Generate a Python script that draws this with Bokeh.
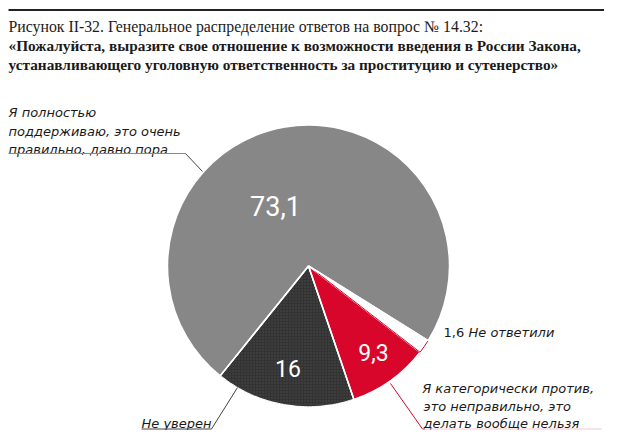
import math
from bokeh.plotting import figure
from bokeh.models import Range1d, ColumnDataSource
from bokeh.core.properties import value
from bokeh.embed import file_html
from bokeh.resources import INLINE

# ---- data ----
categories = ["Не уверен", "Я категорически против, это неправильно, это делать вообще нельзя",
              "Не ответили", "Я полностью поддерживаю, это очень правильно, давно пора"]
values = [16, 9.3, 1.6, 73.1]
value_labels = ["16", "9,3", "1,6", "73,1"]
colors = ["#333333", "#d7062a", "#ffffff", "#878787"]
title_lines = [
    "Рисунок II-32. Генеральное распределение ответов на вопрос № 14.32:",
    "«Пожалуйста, выразите свое отношение к возможности введения в России Закона,",
    "устанавливающего уголовную ответственность за проституцию и сутенерство»",
]
label_yes = ["Я полностью", "поддерживаю, это очень", "правильно, давно пора"]
label_no = ["Я категорически против,", "это неправильно, это", "делать вообще нельзя"]
label_unsure = "Не уверен"
label_na = "Не ответили"

W, H = 604, 430


def P(px, py):
    """image pixel -> data coordinates"""
    return px, H - py


p = figure(width=W, height=H, x_range=Range1d(0, W), y_range=Range1d(0, H),
           output_backend="svg", toolbar_location=None, min_border=0)
p.axis.visible = False
p.grid.visible = False
p.outline_line_color = None
p.background_fill_color = "white"
p.border_fill_color = "white"

# ---- pie ----
cx, cy = P(308, 265.5)
R = 141
start_deg = 231.2
total = sum(values)
starts, ends = [], []
a = math.radians(start_deg)
for v in values:
    starts.append(a)
    a += v / total * 2 * math.pi
    ends.append(a)

src = ColumnDataSource(dict(s=starts, e=ends, c=colors,
                            lc=["white", "white", "#d7062a", "white"],
                            lw=[1.5, 1.5, 1.0, 1.5]))
p.wedge(x=cx, y=cy, radius=R, start_angle="s", end_angle="e", direction="anticlock",
        fill_color="c", line_color="lc", line_width="lw", source=src)
# dotted texture on dark slice
p.wedge(x=cx, y=cy, radius=R, start_angle=starts[0], end_angle=ends[0], direction="anticlock",
        fill_alpha=0, line_color=None, hatch_pattern="dot", hatch_color="#5c5c5c",
        hatch_scale=3, hatch_weight=0.6, hatch_alpha=0.55)
# white separators
for ang in [starts[0], starts[1], starts[3]]:
    p.segment(x0=cx, y0=cy, x1=cx + R * math.cos(ang), y1=cy + R * math.sin(ang),
              line_color="white", line_width=1.5)

# values inside
num_font = value("Roboto")
for lbl, (px, py), size in [(value_labels[3], (275, 205), "27px"),
                            (value_labels[0], (287.5, 368), "23px"),
                            (value_labels[1], (373, 352), "23px")]:
    x, y = P(px, py)
    p.text(x=[x], y=[y], text=[lbl], text_color="white", text_font=num_font,
           text_font_size=size, text_align="center", text_baseline="middle")

# ---- title ----
x0, y0 = P(8, 9.5)
x1, _ = P(612, 9.5)
p.segment(x0=x0, y0=y0, x1=x1, y1=y0, line_color="#222222", line_width=2)
serif = value("Liberation Serif")
for i, (t, by) in enumerate(zip(title_lines, [25.5, 45, 64])):
    x, y = P(8, by)
    p.text(x=[x], y=[y], text=[t], text_font=serif,
           text_font_size="15.8px" if i == 0 else "15.3px",
           text_font_style="normal" if i == 0 else "bold", text_color="#1a1a1a",
           text_baseline="alphabetic")

lab_font = value("DejaVu Sans")
lab_size = "13px"

# ---- label: yes ----
for t, by in zip(label_yes, [112, 130.5, 148.5]):
    x, y = P(8, by)
    p.text(x=[x], y=[y], text=[t], text_font=lab_font, text_font_size=lab_size,
           text_font_style="italic", text_color="#1a1a1a", text_baseline="alphabetic")
ax, ay = P(8, 153)
bx, by_ = P(185, 153)
ex, ey = P(202, 171)
p.line(x=[ax, bx], y=[ay, by_], line_color="#8a8a8a", line_width=1.2)
p.line(x=[bx, ex], y=[by_, ey], line_color="#444444", line_width=1)

# ---- label: unsure ----
x, y = P(141, 423)
p.text(x=[x], y=[y], text=[label_unsure], text_font=lab_font, text_font_size=lab_size,
       text_font_style="italic", text_color="#1a1a1a", text_baseline="alphabetic")
ax, ay = P(141, 428.5)
bx, by_ = P(211, 428.5)
ex, ey = P(237, 387)
p.line(x=[ax, bx, ex], y=[ay, by_, ey], line_color="#444444", line_width=1)

# ---- label: no ----
for t, px, by in zip(label_no, [421.7, 423, 423], [387.5, 406, 423]):
    x, y = P(px, by)
    p.text(x=[x], y=[y], text=[t], text_font=lab_font, text_font_size=lab_size,
           text_font_style="italic", text_color="#1a1a1a", text_baseline="alphabetic")
ax, ay = P(422, 428.5)
bx, by_ = P(602, 428.5)
ex, ey = P(390, 383)
p.line(x=[ax, bx], y=[ay, by_], line_color="#f08a9a", line_width=1.2, line_dash="1 1")
p.line(x=[ax, ex], y=[ay, ey], line_color="#d7062a", line_width=1)

# ---- label: no answer ----
x, y = P(443, 332)
p.text(x=[x], y=[y], text=[value_labels[2]], text_font=lab_font, text_font_size=lab_size,
       text_color="#1a1a1a", text_baseline="alphabetic")
x, y = P(468, 332)
p.text(x=[x], y=[y], text=[label_na], text_font=lab_font, text_font_size=lab_size,
       text_font_style="italic", text_color="#1a1a1a", text_baseline="alphabetic")

open("out.html", "w").write(file_html(p, INLINE))
